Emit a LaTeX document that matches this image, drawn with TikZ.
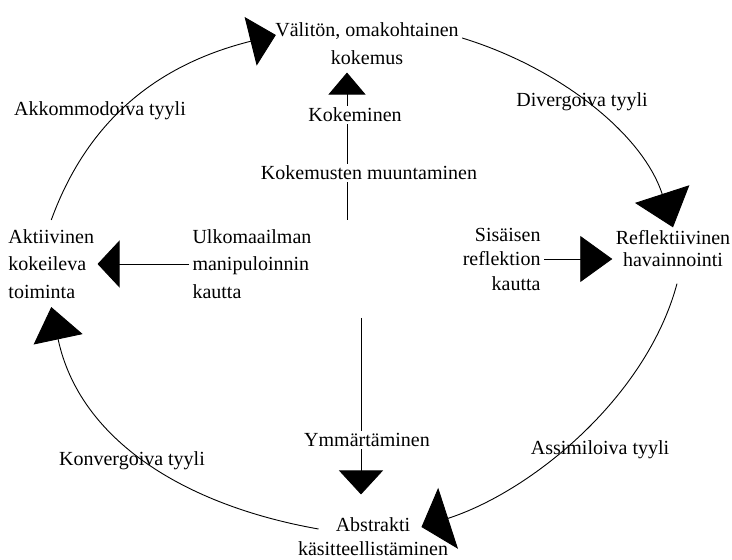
\documentclass[tikz,border=0pt]{standalone}
\usepackage{fontspec}
\setmainfont{Liberation Serif}
\usetikzlibrary{arrows.meta}

\begin{document}
\begin{tikzpicture}[x=1pt, y=1pt]
    \useasboundingbox (0,0) rectangle (732,560);

    \tikzset{StageStyle/.style={align=center, inner sep=3.3pt, font=\fontsize{20}{27.5}\selectfont}}
    \tikzset{LabelStyle/.style={inner sep=2pt, font=\fontsize{20}{24}\selectfont}}
    \tikzset{EdgeStyle/.style={line width=0.9pt}}
    \tikzset{Tip/.style 2 args={-{Triangle[length=#1, width=#2]}}}

    % the four stages of the cycle
    \node[StageStyle, font=\fontsize{20}{28}\selectfont] (Kok) at (367,516) {Välitön, omakohtainen\\kokemus};
    \node[StageStyle, font=\fontsize{20}{22}\selectfont] (Ref) at (673,311) {Reflektiivinen\\havainnointi};
    \node[StageStyle, font=\fontsize{20}{24}\selectfont] (Abs) at (373,23)  {Abstrakti\\käsitteellistäminen};
    \node[StageStyle, align=left, anchor=west] (Akt) at (5,296) {Aktiivinen\\kokeileva\\toiminta};

    % the two ways of handling
    \node[StageStyle, align=left, anchor=west] (Ulk) at (189,296) {Ulkomaailman\\manipuloinnin\\kautta};
    \node[StageStyle, align=right, anchor=east, font=\fontsize{20}{24.5}\selectfont] (Sis) at (544,301) {Sisäisen\\reflektion\\kautta};

    % the four styles
    \node[LabelStyle] (Akk) at (100,449) {Akkommodoiva tyyli};
    \node[LabelStyle] (Div) at (582,458) {Divergoiva tyyli};
    \node[LabelStyle] (Kon) at (132,99)  {Konvergoiva tyyli};
    \node[LabelStyle] (Ass) at (600,110) {Assimiloiva tyyli};

    % cycle
    \draw[EdgeStyle, Tip={33pt}{50pt}] ([xshift=24pt, yshift=8pt]Abs.west) to[out=170, in=-78] ([yshift=-5pt]Akt.south);
    \draw[EdgeStyle, Tip={26pt}{50pt}] ([yshift=6pt]Akt.north) to[out=70, in=194] ([xshift=4pt, yshift=9pt]Kok.west);
    \draw[EdgeStyle, Tip={35pt}{57pt}] ([yshift=6pt]Kok.east) to[out=-17, in=108, looseness=0.9] (Ref.north);
    \draw[EdgeStyle, Tip={28pt}{64pt}] ([xshift=4pt, yshift=-13pt]Ref.south) to[out=-105, in=18, looseness=0.85] ([xshift=-30pt, yshift=10pt]Abs.east);

    % inner axes
    \draw[EdgeStyle, Tip={22pt}{47pt}] (Ulk.west) -- (Akt.east);
    \draw[EdgeStyle, Tip={32pt}{46pt}] (Sis.east) -- (Sis.east -| Ref.west);

    \coordinate (Mbot) at (347,340);
    \coordinate (Ytop) at (361,242);
    \draw[EdgeStyle, Tip={22pt}{37pt}, shorten >=4pt] (Mbot) -- (Mbot |- Kok.south);
    \draw[EdgeStyle, Tip={24pt}{44pt}, shorten >=20pt] (Ytop) -- (Ytop |- Abs.north);

    \node[LabelStyle, fill=white] (Kem) at (355,445) {Kokeminen};
    \node[LabelStyle, fill=white] (Muu) at (369,387) {Kokemusten muuntaminen};
    \node[LabelStyle, fill=white] (Ymm) at (367,120) {Ymmärtäminen};
\end{tikzpicture}
\end{document}
